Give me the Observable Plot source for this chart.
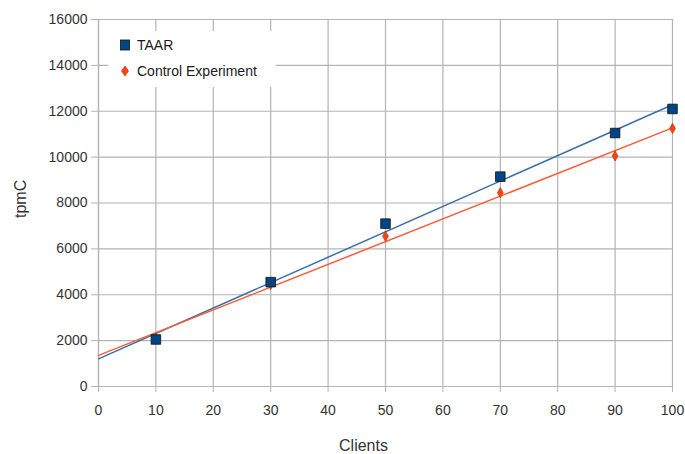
<!DOCTYPE html>
<html>
<head>
<meta charset="utf-8">
<script src="https://cdn.jsdelivr.net/npm/d3@7"></script>
<script src="https://cdn.jsdelivr.net/npm/@observablehq/plot@0.6"></script>
<style>
  body { margin: 0; background: #fff; }
  #wrap { position: relative; width: 685px; height: 454px; font-family: "Liberation Sans", Arial, sans-serif; }
  #legend { position: absolute; left: 108px; top: 31px; width: 168px; height: 56px; background: #fff; font-size: 14px; color: #1a1a1a; }
  #legend .item { position: absolute; left: 11px; display: flex; align-items: center; }
  #legend svg { margin-right: 6px; }
</style>
</head>
<body>
<div id="wrap"></div>
<script>
const clients = [10, 30, 50, 70, 90, 100];
const taar = [2050, 4550, 7100, 9150, 11050, 12100];
const control = [2100, 4450, 6550, 8450, 10050, 11250];
const seriesNames = ["TAAR", "Control Experiment"];
const xTicks = [0, 10, 20, 30, 40, 50, 60, 70, 80, 90, 100];
const yTicks = [0, 2000, 4000, 6000, 8000, 10000, 12000, 14000, 16000];

const colors = {TAAR: {fill: "#004586", line: "#3a6fa8"}, "Control Experiment": {fill: "#ff420e", line: "#ff5a36"}};

function regression(xs, ys) {
  const mx = d3.mean(xs), my = d3.mean(ys);
  const sxy = d3.sum(xs, (x, i) => (x - mx) * (ys[i] - my));
  const sxx = d3.sum(xs, x => (x - mx) ** 2);
  const slope = sxy / sxx;
  const b = my - slope * mx;
  return [0, 100].map(x => ({x, y: b + slope * x}));
}

const ptsT = clients.map((c, i) => ({x: c, y: taar[i]}));
const ptsC = clients.map((c, i) => ({x: c, y: control[i]}));
const lineT = regression(clients, taar);
const lineC = regression(clients, control);

const chart = Plot.plot({
  width: 685,
  height: 454,
  marginLeft: 98,
  marginRight: 13,
  marginTop: 19,
  marginBottom: 68,
  style: {fontFamily: "Liberation Sans, Arial, sans-serif", fontSize: "14px", color: "#333"},
  x: {domain: [0, 100], ticks: xTicks, label: null},
  y: {domain: [0, 16000], ticks: yTicks, label: null},
  marks: [
    Plot.gridX(xTicks, {stroke: "#b3b3b3", strokeOpacity: 1, strokeWidth: 1.2}),
    Plot.gridY(yTicks, {stroke: "#b3b3b3", strokeOpacity: 1, strokeWidth: 1.2}),
    Plot.ruleX([0], {stroke: "#b3b3b3", strokeWidth: 1.2}),
    Plot.ruleY([0], {stroke: "#b3b3b3", strokeWidth: 1.2}),
    Plot.axisX({ticks: xTicks, tickSize: 6, tickPadding: 13, stroke: "#b3b3b3", tickFormat: d => String(d), fill: "#333", label: null}),
    Plot.axisY({ticks: yTicks, tickSize: 7, tickPadding: 4, stroke: "#b3b3b3", tickFormat: d => String(d), fill: "#333", label: null}),
    Plot.line(lineT, {x: "x", y: "y", stroke: colors.TAAR.line, strokeWidth: 1.5}),
    Plot.line(lineC, {x: "x", y: "y", stroke: colors["Control Experiment"].line, strokeWidth: 1.5}),
    Plot.dot(ptsC, {x: "x", y: "y", symbol: "diamond", r: 3.1, fill: colors["Control Experiment"].fill, stroke: "#b02a00", strokeWidth: 0.6}),
    Plot.dot(ptsT, {x: "x", y: "y", symbol: "square", r: 5.4, fill: colors.TAAR.fill, stroke: "#111", strokeWidth: 0.8}),
    Plot.text(["Clients"], {frameAnchor: "bottom", dx: -22, dy: 64, fontSize: 16, fill: "#333"}),
    Plot.text(["tpmC"], {frameAnchor: "left", dx: -78, dy: 15, rotate: -90, fontSize: 16, fill: "#333"})
  ]
});

const wrap = document.getElementById("wrap");
wrap.appendChild(chart);

const legend = document.createElement("div");
legend.id = "legend";
legend.innerHTML = `
  <div class="item" style="top:6px"><svg width="12" height="14"><rect x="1.5" y="2" width="9" height="10" fill="${colors.TAAR.fill}" stroke="#111" stroke-width="0.8"/></svg><span>${seriesNames[0]}</span></div>
  <div class="item" style="top:32px"><svg width="12" height="14"><path d="M6 2 L9.5 7 L6 12 L2.5 7 Z" fill="${colors["Control Experiment"].fill}" stroke="#b02a00" stroke-width="0.6"/></svg><span>${seriesNames[1]}</span></div>`;
wrap.appendChild(legend);
</script>
</body>
</html>
